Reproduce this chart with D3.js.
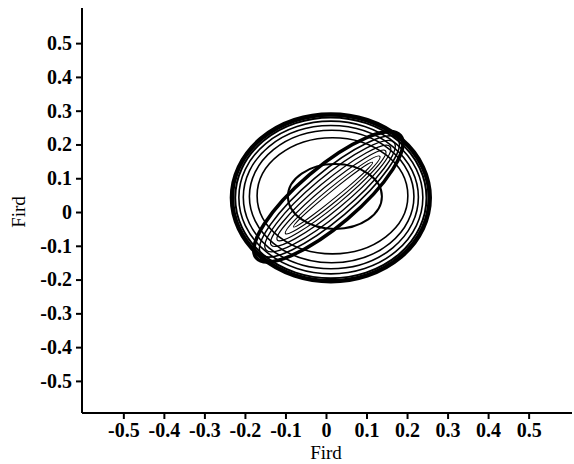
<!DOCTYPE html>
<html>
<head>
<meta charset="utf-8">
<script src="https://cdn.jsdelivr.net/npm/d3@7"></script>
<style>
  body { margin: 0; background: #fff; }
  svg { display: block; }
  .tick text { font-family: "Liberation Serif", serif; font-size: 20px; font-weight: bold; fill: #000; }
  .title { font-family: "Liberation Serif", serif; font-size: 19px; fill: #000; }
</style>
</head>
<body>
<div id="chart"></div>
<script>
// tick values
const xTicks = [-0.5, -0.4, -0.3, -0.2, -0.1, 0, 0.1, 0.2, 0.3, 0.4, 0.5];
const yTicks = [-0.5, -0.4, -0.3, -0.2, -0.1, 0, 0.1, 0.2, 0.3, 0.4, 0.5];

// concentric contours: centre x, centre y, radius x, radius y, line width
const ringCx = [0.012, 0.012, 0.012, 0.012, 0.014, 0.016, 0.022];
const ringCy = [0.042, 0.042, 0.043, 0.044, 0.046, 0.048, 0.046];
const ringRx = [0.244, 0.236, 0.227, 0.216, 0.203, 0.186, 0.116];
const ringRy = [0.247, 0.238, 0.226, 0.212, 0.196, 0.172, 0.096];
const ringW  = [4.5, 2, 1.6, 1.6, 1.6, 1.6, 2];

// diagonal contours: lower-left tip, upper-right tip, half width (x units), line width
const diagX1 = [-0.172, -0.160, -0.148, -0.135, -0.120, -0.100, -0.080];
const diagY1 = [-0.136, -0.125, -0.112, -0.098, -0.083, -0.064, -0.044];
const diagX2 = [0.184, 0.177, 0.168, 0.158, 0.147, 0.133, 0.115];
const diagY2 = [0.226, 0.217, 0.206, 0.194, 0.181, 0.165, 0.147];
const diagHW = [0.072, 0.058, 0.047, 0.036, 0.026, 0.017, 0.009];
const diagW  = [3.5, 1.6, 1.4, 1.3, 1.2, 1.1, 1];

const width = 574, height = 464;
const margin = {top: 8, right: 2, bottom: 51, left: 82};

const svg = d3.select('#chart').append('svg')
  .attr('width', width).attr('height', height);

const x = d3.scaleLinear().domain([-0.602, 0.607]).range([margin.left, width - margin.right]);
const y = d3.scaleLinear().domain([-0.595, 0.604]).range([height - margin.bottom, margin.top]);

// concentric rings
const rings = ringCx.map((d, i) => ({cx: d, cy: ringCy[i], rx: ringRx[i], ry: ringRy[i], w: ringW[i]}));
svg.append('g').selectAll('ellipse')
  .data(rings)
  .join('ellipse')
    .attr('cx', d => x(d.cx))
    .attr('cy', d => y(d.cy))
    .attr('rx', d => x(d.rx) - x(0))
    .attr('ry', d => y(0) - y(d.ry))
    .attr('fill', 'none')
    .attr('stroke', '#000')
    .attr('stroke-width', d => d.w);

// diagonal ellipses, placed from their two tips
const diags = diagX1.map((d, i) => {
  const px1 = x(d), py1 = y(diagY1[i]), px2 = x(diagX2[i]), py2 = y(diagY2[i]);
  return {
    cx: (px1 + px2) / 2,
    cy: (py1 + py2) / 2,
    rx: Math.hypot(px2 - px1, py2 - py1) / 2,
    ry: x(diagHW[i]) - x(0),
    angle: Math.atan2(py2 - py1, px2 - px1) * 180 / Math.PI,
    w: diagW[i]
  };
});
svg.append('g').selectAll('ellipse')
  .data(diags)
  .join('ellipse')
    .attr('transform', d => `translate(${d.cx},${d.cy}) rotate(${d.angle})`)
    .attr('rx', d => d.rx)
    .attr('ry', d => d.ry)
    .attr('fill', 'none')
    .attr('stroke', '#000')
    .attr('stroke-width', d => d.w);

// axes (plain hyphen for negatives, like the original)
const fmt = d => d === 0 ? '0' : d3.format('.1f')(d).replace('\u2212', '-');

const xAxis = svg.append('g')
  .attr('transform', `translate(0,${height - margin.bottom})`)
  .call(d3.axisBottom(x).tickValues(xTicks).tickSize(6).tickPadding(4).tickFormat(fmt));
xAxis.select('.domain').attr('stroke-width', 2).attr('d', `M${margin.left},0H${width - margin.right}`);
xAxis.selectAll('.tick line').attr('stroke-width', 2);

const yAxis = svg.append('g')
  .attr('transform', `translate(${margin.left},0)`)
  .call(d3.axisLeft(y).tickValues(yTicks).tickSize(6).tickPadding(4).tickFormat(fmt));
yAxis.select('.domain').attr('stroke-width', 2).attr('d', `M0,${margin.top}V${height - margin.bottom}`);
yAxis.selectAll('.tick line').attr('stroke-width', 2);

// axis titles
svg.append('text').attr('class', 'title')
  .attr('x', x(0)).attr('y', 459)
  .attr('text-anchor', 'middle')
  .text('Fird');
svg.append('text').attr('class', 'title')
  .attr('transform', `translate(25,${y(0)}) rotate(-90)`)
  .attr('text-anchor', 'middle')
  .text('Fird');
</script>
</body>
</html>
